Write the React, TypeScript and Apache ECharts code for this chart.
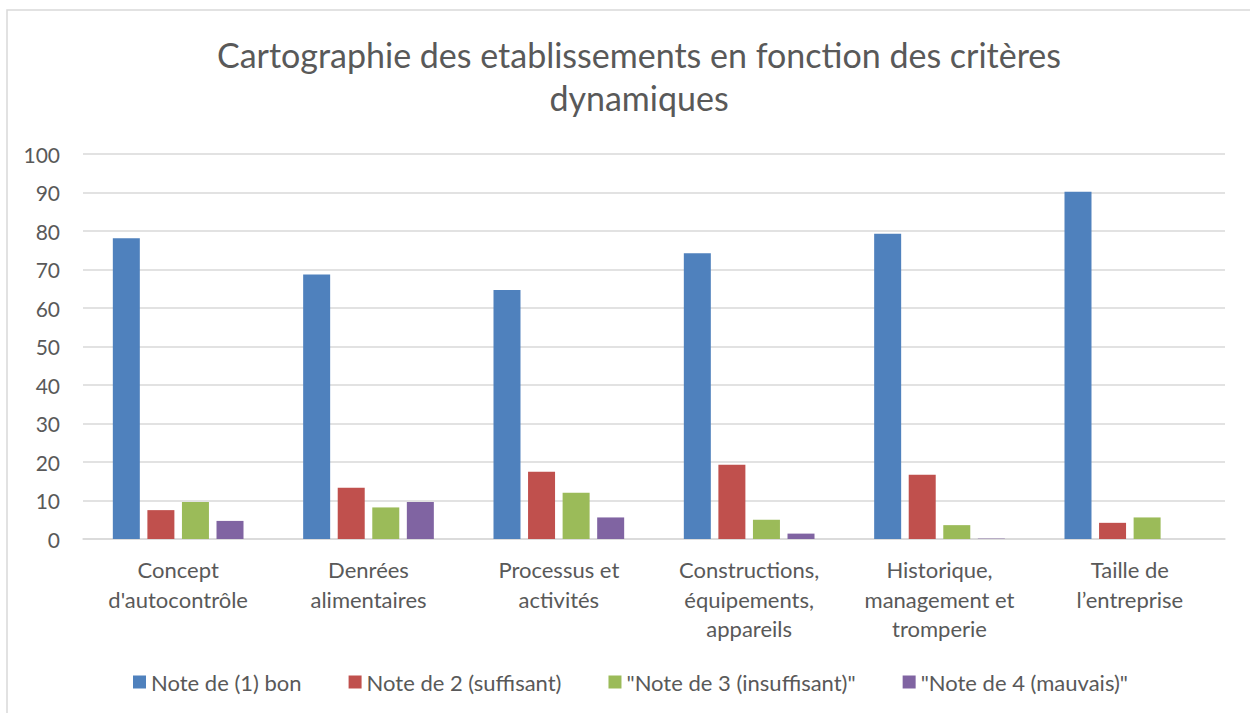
import React, { useEffect, useRef } from "react";
import * as echarts from "echarts";

const titleText = "Cartographie des etablissements en fonction des critères\ndynamiques";
const categories = [
  "Concept\nd'autocontrôle",
  "Denrées\nalimentaires",
  "Processus et\nactivités",
  "Constructions,\néquipements,\nappareils",
  "Historique,\nmanagement et\ntromperie",
  "Taille de\nl’entreprise",
];
const seriesNames = [
  "Note de (1) bon",
  "Note de 2 (suffisant)",
  "\"Note de 3 (insuffisant)\"",
  "\"Note de 4 (mauvais)\"",
];
const note1 = [78.1, 68.7, 64.7, 74.2, 79.3, 90.2];
const note2 = [7.5, 13.3, 17.5, 19.3, 16.7, 4.2];
const note3 = [9.6, 8.2, 12.0, 5.0, 3.6, 5.6];
const note4 = [4.7, 9.6, 5.6, 1.4, 0.1, 0];
const colors = ["#4F81BD", "#C0504D", "#9BBB59", "#8064A2"];
const yTicks = { min: 0, max: 100, interval: 10 };

const FONT = "Lato, 'Open Sans', sans-serif";
const TXT = "#595959";
const GRID = "#D9D9D9";

export default function App() {
  const ref = useRef<HTMLDivElement>(null);
  useEffect(() => {
    if (!ref.current) return;
    const chart = echarts.init(ref.current, null, { renderer: "svg" });
    const data = [note1, note2, note3, note4];
    chart.setOption({
      animation: false,
      backgroundColor: "#ffffff",
      textStyle: { fontFamily: FONT },
      title: {
        text: titleText,
        left: 634,
        textAlign: "center",
        top: 28,
        textStyle: {
          fontFamily: FONT,
          fontSize: 34,
          fontWeight: "normal",
          color: TXT,
          lineHeight: 43,
        },
      },
      graphic: [
        {
          type: "rect",
          shape: { x: 7, y: 10, width: 1300, height: 800 },
          style: { fill: "none", stroke: GRID, lineWidth: 1.5 },
          silent: true,
        },
      ],
      legend: {
        data: seriesNames,
        left: 128,
        top: 666,
        icon: "rect",
        itemWidth: 13,
        itemHeight: 13,
        itemGap: 47,
        textStyle: { fontFamily: FONT, fontSize: 22, color: TXT },
      },
      grid: { left: 83, right: 25, top: 154, bottom: 174, containLabel: false },
      xAxis: {
        type: "category",
        data: categories,
        axisLine: { lineStyle: { color: GRID, width: 1.5 } },
        axisTick: { show: false },
        axisLabel: {
          fontFamily: FONT,
          fontSize: 22,
          color: TXT,
          lineHeight: 29.5,
          margin: 16,
          interval: 0,
        },
      },
      yAxis: {
        type: "value",
        min: yTicks.min,
        max: yTicks.max,
        interval: yTicks.interval,
        axisLine: { show: false },
        axisTick: { show: false },
        axisLabel: { fontFamily: FONT, fontSize: 21, color: TXT, margin: 23 },
        splitLine: { lineStyle: { color: GRID, width: 1.5 } },
      },
      series: seriesNames.map((name, i) => ({
        name,
        type: "bar",
        data: data[i],
        barWidth: 27,
        barGap: "28%",
        itemStyle: { color: colors[i] },
      })),
    });
    return () => chart.dispose();
  }, []);
  return (
    <div
      ref={ref}
      style={{ position: "fixed", left: 0, top: 0, width: 1250, height: 713 }}
    />
  );
}
